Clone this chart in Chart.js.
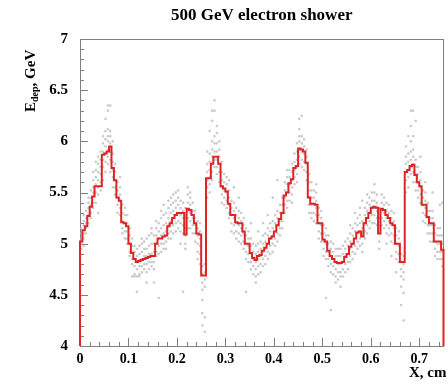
<!DOCTYPE html>
<html>
<head>
<meta charset="utf-8">
<script src="https://cdn.jsdelivr.net/npm/chart.js@4.4.1/dist/chart.umd.min.js"></script>
<style>
html,body{margin:0;padding:0;background:#fff;}
canvas{display:block;}
</style>
</head>
<body>
<canvas id="c" width="448" height="385"></canvas>
<script>
// ---- data ----
const title = "500 GeV electron shower";
const xTitle = "X, cm";
const yTitleMain = "E";
const yTitleSub = "dep";
const yTitleRest = ", GeV";
const xMin = 0, xMax = 0.75, yMin = 4, yMax = 7;
const xTicks = [0, 0.1, 0.2, 0.3, 0.4, 0.5, 0.6, 0.7];
const xTickLabels = ["0", "0.1", "0.2", "0.3", "0.4", "0.5", "0.6", "0.7"];
const yTicks = [4, 4.5, 5, 5.5, 6, 6.5, 7];
const yTickLabels = ["4", "4.5", "5", "5.5", "6", "6.5", "7"];

// histogram (150 bins of 0.005 cm), Edep in GeV
const edep = [
 5.02,5.13,5.17,5.27,5.36,5.46,5.56,5.56,5.56,5.87,
 5.88,5.90,5.95,5.74,5.62,5.45,5.42,5.21,5.20,5.17,
 5.00,4.91,4.85,4.82,4.83,4.84,4.85,4.86,4.87,4.88,
 4.88,5.00,5.05,5.05,5.07,5.08,5.17,5.20,5.25,5.28,
 5.30,5.30,5.30,5.09,5.34,5.33,5.28,5.20,5.10,5.09,
 4.69,4.69,5.64,5.64,5.78,5.85,5.85,5.78,5.56,5.54,
 5.51,5.39,5.28,5.28,5.21,5.20,5.20,5.12,5.00,5.00,
 4.91,4.86,4.84,4.88,4.89,4.93,4.96,5.00,5.05,5.07,
 5.12,5.18,5.24,5.30,5.47,5.50,5.59,5.63,5.74,5.76,
 5.93,5.92,5.90,5.79,5.45,5.39,5.39,5.38,5.20,5.20,
 5.04,5.02,4.93,4.88,4.85,4.82,4.81,4.81,4.82,4.87,
 4.90,4.97,5.00,5.05,5.11,5.12,5.07,5.20,5.25,5.30,
 5.35,5.36,5.35,5.10,5.34,5.33,5.28,5.25,5.20,5.18,
 5.00,5.00,4.82,4.82,5.70,5.72,5.76,5.77,5.67,5.60,
 5.56,5.38,5.38,5.26,5.20,5.20,5.02,5.02,5.02,4.94
];

// individual event points per bin (GeV)
const dots = [
 [4.95,5.00,5.05,5.10,5.15],[5.05,5.10,5.18,5.22,5.28,4.98],[5.10,5.20,5.25,5.32,5.15],[5.20,5.28,5.35,5.40,5.45],[5.30,5.38,5.45,5.52,5.25],
 [5.40,5.50,5.55,5.62,5.35,5.70],[5.50,5.58,5.65,5.72,5.80,5.40],[5.48,5.55,5.62,5.70,5.78,5.85,5.30],[5.60,5.68,5.75,5.82,5.90,5.52],[5.75,5.82,5.90,5.98,6.05,5.62],
 [5.80,5.88,5.95,6.02,6.10,5.70,6.22],[5.78,5.85,5.92,6.00,6.05,6.12,6.35,6.30],[5.82,5.90,5.98,6.05,6.10,6.35,5.70],[5.65,5.72,5.80,5.88,6.00,5.55],[5.55,5.62,5.70,5.78,5.48],
 [5.38,5.45,5.52,5.60,5.30],[5.35,5.42,5.48,5.55,5.28,5.65],[5.15,5.22,5.30,5.38,5.10],[5.12,5.20,5.28,5.35,5.05],[5.05,5.12,5.20,5.28,5.00],
 [4.92,5.00,5.08,5.15,4.88],[4.85,4.92,4.98,5.05,4.80,4.68],[4.78,4.85,4.92,4.98,4.70,4.68],[4.75,4.82,4.88,4.95,4.68,4.53],[4.78,4.84,4.90,4.98,4.70,4.68],
 [4.78,4.85,4.92,5.00,4.72,5.05],[4.80,4.88,4.95,5.02,4.75],[4.80,4.88,4.95,5.05,4.72,4.62],[4.82,4.90,4.98,5.08,4.75],[4.82,4.90,5.00,5.10,4.78,5.15],
 [4.82,4.92,5.00,5.08,4.75,4.62],[4.92,5.00,5.08,5.15,4.88,5.22],[4.98,5.05,5.12,5.20,4.90,4.47],[5.00,5.08,5.15,5.25,4.92,5.32],[5.00,5.10,5.18,5.28,4.95,5.38],
 [5.02,5.12,5.20,5.30,4.95],[5.10,5.18,5.25,5.35,5.42,5.05],[5.12,5.22,5.30,5.38,5.45,5.05],[5.18,5.25,5.32,5.40,5.48,5.10],[5.20,5.28,5.35,5.42,5.12,5.50],
 [5.22,5.30,5.38,5.45,5.15,5.52],[5.20,5.28,5.35,5.42,5.12,5.00],[5.18,5.25,5.32,5.40,5.10,4.53],[5.00,5.08,5.15,5.25,4.95,5.35],[5.25,5.32,5.40,5.48,5.55,5.15],
 [5.22,5.30,5.38,5.45,5.15,5.50],[5.18,5.25,5.32,5.40,5.10],[5.10,5.18,5.25,5.32,5.02],[5.00,5.08,5.15,5.22,4.92,4.85],[4.98,5.05,5.12,5.20,4.90,4.80],
 [4.62,4.70,4.78,4.55,4.45,4.32,4.20],[4.65,4.72,4.80,4.58,4.14,4.28],[5.55,5.62,5.70,5.78,5.45,5.90],[5.58,5.65,5.72,5.80,5.88,5.50,6.10],[5.70,5.78,5.85,5.92,6.00,5.62,6.20,6.30],
 [5.75,5.82,5.90,5.98,6.05,6.40,6.30],[5.75,5.82,5.90,5.98,6.08,6.15,5.68],[5.70,5.78,5.85,5.92,6.00,5.60],[5.48,5.55,5.62,5.70,5.40,5.80],[5.45,5.52,5.60,5.68,5.38],
 [5.42,5.50,5.58,5.65,5.35],[5.30,5.38,5.45,5.52,5.25,5.62],[5.20,5.28,5.35,5.42,5.12],[5.18,5.25,5.32,5.40,5.10,5.55],[5.12,5.20,5.28,5.35,5.05],
 [5.10,5.18,5.25,5.32,5.02,5.45],[5.08,5.15,5.22,5.30,5.00],[5.02,5.10,5.18,5.25,4.95],[4.92,5.00,5.08,5.15,4.85,4.53],[4.90,4.98,5.05,5.12,4.82],
 [4.82,4.90,4.98,5.05,4.75,5.20],[4.78,4.85,4.92,5.00,4.70],[4.75,4.82,4.90,4.98,4.68,4.62],[4.78,4.85,4.92,5.00,4.70,5.12],[4.80,4.88,4.95,5.02,4.72],
 [4.85,4.92,5.00,5.08,4.78,5.20],[4.88,4.95,5.02,5.10,4.80],[4.92,5.00,5.08,5.15,4.85,5.28],[4.98,5.05,5.12,5.20,4.90],[5.00,5.08,5.15,5.22,4.92,5.45],
 [5.05,5.12,5.20,5.28,4.98],[5.10,5.18,5.25,5.32,5.02,5.62],[5.15,5.22,5.30,5.38,5.08],[5.22,5.30,5.38,5.45,5.15],[5.38,5.45,5.52,5.60,5.30],
 [5.42,5.50,5.58,5.65,5.35,5.72],[5.50,5.58,5.65,5.72,5.42],[5.55,5.62,5.70,5.78,5.48,5.40],[5.65,5.72,5.80,5.88,5.58],[5.68,5.75,5.82,5.90,5.98,5.60],
 [5.85,5.92,6.00,6.05,6.12,6.22,5.78],[5.82,5.90,5.98,6.05,6.25,5.75],[5.80,5.88,5.95,6.02,5.72],[5.70,5.78,5.85,5.92,5.62],[5.38,5.45,5.52,5.60,5.68,5.30],
 [5.30,5.38,5.45,5.52,5.25,5.60],[5.30,5.38,5.45,5.52,5.22],[5.28,5.35,5.42,5.50,5.20,5.58],[5.12,5.20,5.28,5.35,5.05],[5.10,5.18,5.25,5.32,5.02],
 [4.95,5.02,5.10,5.18,4.88],[4.92,5.00,5.08,5.15,4.85,4.47],[4.85,4.92,5.00,5.08,4.78],[4.80,4.88,4.95,5.02,4.72,4.35],[4.78,4.85,4.92,5.00,4.70],
 [4.75,4.82,4.88,4.95,4.68,4.62],[4.72,4.80,4.88,4.95,4.65],[4.72,4.80,4.88,4.95,4.68,4.58],[4.75,4.82,4.90,4.98,4.68],[4.80,4.88,4.95,5.02,4.72],
 [4.82,4.90,4.98,5.05,4.75],[4.88,4.95,5.02,5.10,4.82,5.18],[4.92,5.00,5.08,5.15,4.85],[4.98,5.05,5.12,5.20,4.90,5.30],[5.02,5.10,5.18,5.25,4.95],
 [5.05,5.12,5.20,5.28,4.98,5.35],[5.00,5.08,5.15,5.22,4.92,5.42],[5.12,5.20,5.28,5.35,5.05],[5.18,5.25,5.32,5.40,5.10,5.48],[5.22,5.30,5.38,5.45,5.15],
 [5.28,5.35,5.42,5.50,5.20],[5.28,5.35,5.42,5.50,5.58,5.20],[5.25,5.32,5.40,5.48,5.18],[5.02,5.10,5.18,5.25,4.95,5.35],[5.25,5.32,5.40,5.48,5.18],
 [5.22,5.30,5.38,5.45,5.15],[5.18,5.25,5.32,5.40,5.10,5.00],[5.15,5.22,5.30,5.38,5.08],[5.10,5.18,5.25,5.32,5.02,4.88],[5.08,5.15,5.22,5.30,5.00],
 [4.92,5.00,5.08,5.15,4.85,4.72],[4.90,4.98,5.05,5.12,4.82],[4.75,4.82,4.90,4.68,4.58,4.40],[4.72,4.80,4.88,4.65,4.25,4.52],[5.62,5.70,5.78,5.85,5.50,5.95],
 [5.65,5.72,5.80,5.88,5.55,6.05],[5.68,5.75,5.82,5.90,6.00,6.30,6.15],[5.70,5.78,5.85,5.92,6.05,6.30,5.60],[5.60,5.68,5.75,5.82,5.52,6.20],[5.52,5.60,5.68,5.75,5.45],
 [5.48,5.55,5.62,5.70,5.40,5.85],[5.30,5.38,5.45,5.52,5.22],[5.28,5.35,5.42,5.50,5.20,5.60],[5.18,5.25,5.32,5.40,5.10],[5.10,5.18,5.25,5.32,5.02],
 [5.10,5.18,5.25,5.32,5.02,5.50],[4.95,5.02,5.10,5.18,4.88],[4.92,5.00,5.08,5.15,4.85],[4.92,5.00,5.08,5.15,4.85,5.38],[4.85,4.92,5.00,5.08,4.78,5.40]
];

// ---- build datasets from the arrays ----
const binW = (xMax - xMin) / edep.length;
const histPts = [{x: xMin, y: yMin}];
edep.forEach((v, i) => {
  histPts.push({x: xMin + i * binW, y: v});
  histPts.push({x: xMin + (i + 1) * binW, y: v});
});
histPts.push({x: xMax, y: yMin});

const dotPts = [];
dots.forEach((list, i) => {
  const cx = xMin + (i + 0.5) * binW;
  list.forEach(v => dotPts.push({x: cx, y: v}));
});

const SERIF = "'Liberation Serif','DejaVu Serif',serif";

const rootAxes = {
  id: 'rootAxes',
  beforeDatasetsDraw(chart) {
    const {ctx, chartArea: a, scales: {x, y}} = chart;
    ctx.save();
    ctx.strokeStyle = '#808080';
    ctx.lineWidth = 1;
    ctx.strokeRect(Math.round(a.left) + 0.5, Math.round(a.top) + 0.5,
                   Math.round(a.right - a.left) - 1, Math.round(a.bottom - a.top));
    for (let k = 0; k <= 30; k++) {
      const v = yMin + k * 0.1;
      const py = Math.round(y.getPixelForValue(v)) + 0.5;
      const major = k % 5 === 0;
      ctx.beginPath();
      ctx.moveTo(a.left, py);
      ctx.lineTo(a.left + (major ? 8 : 4), py);
      ctx.stroke();
    }
    for (let k = 0; k <= 37; k++) {
      const v = xMin + k * 0.02;
      const px = Math.round(x.getPixelForValue(v)) + 0.5;
      const major = k % 5 === 0;
      ctx.beginPath();
      ctx.moveTo(px, a.bottom);
      ctx.lineTo(px, a.bottom - (major ? 8 : 4));
      ctx.stroke();
    }
    ctx.restore();
  },
  afterDraw(chart) {
    const {ctx, chartArea: a} = chart;
    ctx.save();
    ctx.fillStyle = '#000';
    ctx.font = "bold 17px " + SERIF;
    ctx.textAlign = 'center';
    ctx.textBaseline = 'alphabetic';
    ctx.fillText(title, (a.left + a.right) / 2, 20);
    ctx.font = "bold 15px " + SERIF;
    ctx.textAlign = 'left';
    ctx.fillText(xTitle, 409, 377);
    ctx.translate(35, 112);
    ctx.rotate(-Math.PI / 2);
    ctx.textAlign = 'left';
    ctx.font = "bold 15px " + SERIF;
    ctx.fillText(yTitleMain, 0, 0);
    let w = ctx.measureText(yTitleMain).width;
    ctx.font = "bold 10px " + SERIF;
    ctx.fillText(yTitleSub, w, 3);
    w += ctx.measureText(yTitleSub).width;
    ctx.font = "bold 15px " + SERIF;
    ctx.fillText(yTitleRest, w, 0);
    ctx.restore();
  }
};

new Chart(document.getElementById('c'), {
  type: 'scatter',
  data: {
    datasets: [
      {
        type: 'line', data: histPts, borderColor: '#e02424', borderWidth: 2,
        pointRadius: 0, fill: false, tension: 0, order: 0, clip: 2
      },
      {
        type: 'scatter', data: dotPts, pointStyle: 'rect', pointRadius: 1.1,
        backgroundColor: '#e6e6e6', borderColor: '#a8a8a8', borderWidth: 0.5, order: 1
      }
    ]
  },
  options: {
    responsive: false,
    animation: false,
    layout: {padding: {left: 0, top: 39, right: 0, bottom: 0}},
    plugins: {legend: {display: false}, tooltip: {enabled: false}, title: {display: false}},
    scales: {
      x: {
        type: 'linear', min: xMin, max: xMax,
        afterFit(s) { s.height = 39; },
        afterBuildTicks(s) { s.ticks = xTicks.map(v => ({value: v})); },
        ticks: {
          callback: (v, i) => xTickLabels[i], autoSkip: false, maxRotation: 0,
          font: {family: SERIF, weight: 'bold', size: 14}, color: '#000', padding: 5
        },
        grid: {display: false, drawTicks: false}, border: {display: false}
      },
      y: {
        type: 'linear', min: yMin, max: yMax,
        afterFit(s) { s.width = 80; },
        afterBuildTicks(s) { s.ticks = yTicks.map(v => ({value: v})); },
        ticks: {
          callback: (v, i) => yTickLabels[i], autoSkip: false,
          font: {family: SERIF, weight: 'bold', size: 15}, color: '#000', padding: 12
        },
        grid: {display: false, drawTicks: false}, border: {display: false}
      }
    }
  },
  plugins: [rootAxes]
});
</script>
</body>
</html>
